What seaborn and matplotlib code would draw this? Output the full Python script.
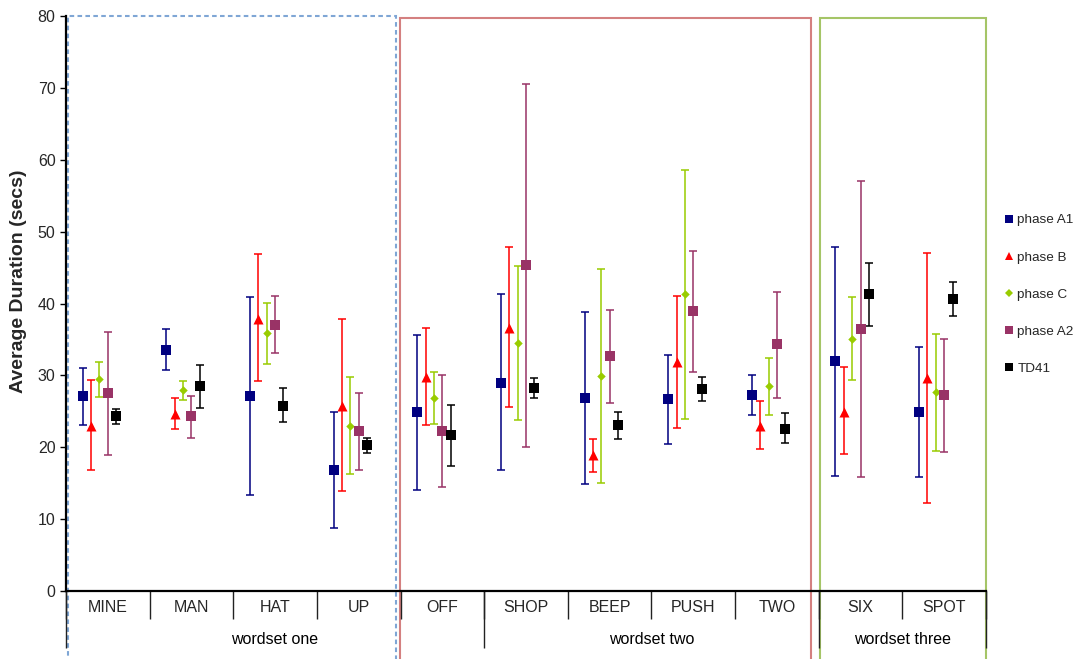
import numpy as np
import pandas as pd
import matplotlib
matplotlib.use("Agg")
import matplotlib.pyplot as plt
from matplotlib.lines import Line2D
from matplotlib.patches import Rectangle
import seaborn as sns

# ---- data -------------------------------------------------------------
categories = ["MINE", "MAN", "HAT", "UP", "OFF", "SHOP", "BEEP", "PUSH", "TWO", "SIX", "SPOT"]
group_labels = ["wordset one", "wordset two", "wordset three"]
group_sizes = [5, 4, 2]
series_names = ["phase A1", "phase B", "phase C", "phase A2", "TD41"]

a1_mean = [27.1, 33.6, 27.1, 16.9, 24.9, 29.0, 26.9, 26.7, 27.3, 32.0, 24.9]
a1_high = [31.0, 36.5, 40.9, 24.9, 35.6, 41.3, 38.8, 32.9, 30.1, 47.8, 33.9]
a1_low = [23.1, 30.8, 13.3, 8.8, 14.1, 16.9, 14.9, 20.5, 24.5, 16.0, 15.9]

b_mean = [23.0, 24.6, 37.9, 25.8, 29.8, 36.6, 18.9, 31.8, 22.9, 24.9, 29.6]
b_high = [29.3, 26.8, 46.9, 37.8, 36.6, 47.8, 21.1, 41.1, 26.5, 31.1, 47.0]
b_low = [16.9, 22.6, 29.2, 13.9, 23.1, 25.6, 16.6, 22.7, 19.7, 19.1, 12.3]

c_mean = [29.5, 27.9, 35.9, 23.0, 26.9, 34.5, 29.9, 41.3, 28.5, 35.1, 27.7]
c_high = [31.9, 29.2, 40.1, 29.8, 30.5, 45.2, 44.8, 58.6, 32.4, 40.9, 35.8]
c_low = [27.0, 26.6, 31.6, 16.3, 23.2, 23.8, 15.0, 23.9, 24.5, 29.3, 19.5]

a2_mean = [27.5, 24.3, 37.0, 22.3, 22.3, 45.3, 32.7, 38.9, 34.3, 36.5, 27.3]
a2_high = [36.0, 27.2, 41.0, 27.6, 30.1, 70.5, 39.1, 47.3, 41.6, 57.0, 35.1]
a2_low = [18.9, 21.3, 33.1, 16.9, 14.5, 20.0, 26.2, 30.5, 26.9, 15.9, 19.4]

td_mean = [24.3, 28.5, 25.8, 20.3, 21.7, 28.3, 23.1, 28.1, 22.6, 41.3, 40.6]
td_high = [25.3, 31.5, 28.2, 21.3, 25.9, 29.7, 24.9, 29.8, 24.7, 45.6, 43.0]
td_low = [23.2, 25.4, 23.5, 19.2, 17.4, 26.8, 21.2, 26.4, 20.6, 36.9, 38.3]

values = {
    "phase A1": (a1_mean, a1_low, a1_high),
    "phase B": (b_mean, b_low, b_high),
    "phase C": (c_mean, c_low, c_high),
    "phase A2": (a2_mean, a2_low, a2_high),
    "TD41": (td_mean, td_low, td_high),
}

# ---- styling ----------------------------------------------------------
colors = {"phase A1": "#000080", "phase B": "#FF0000", "phase C": "#99CC00",
          "phase A2": "#993366", "TD41": "#000000"}
markers = {"phase A1": "s", "phase B": "^", "phase C": "D", "phase A2": "s", "TD41": "s"}
marker_pts = {"phase A1": 6.5, "phase B": 7.2, "phase C": 4.3, "phase A2": 6.5, "TD41": 6.5}
legend_pts = {"phase A1": 5.4, "phase B": 6.0, "phase C": 3.9, "phase A2": 5.4, "TD41": 5.4}
dodge = {"phase A1": -0.3, "phase B": -0.2, "phase C": -0.1, "phase A2": 0.0, "TD41": 0.1}

rows = []
for name in series_names:
    m, lo, hi = values[name]
    for i, cat in enumerate(categories):
        rows.append({"series": name, "category": cat, "pos": i + dodge[name],
                     "mean": m[i], "low": lo[i], "high": hi[i]})
df = pd.DataFrame(rows)

sns.set_theme(style="white")
plt.rcParams["font.family"] = ["Liberation Sans", "DejaVu Sans"]

W, H = 1077, 659
fig = plt.figure(figsize=(W / 100, H / 100), dpi=100)
ax = fig.add_axes([66 / W, 1 - 591 / H, 920 / W, 575 / H])

for name in series_names:
    d = df[df["series"] == name]
    ax.errorbar(d["pos"], d["mean"],
                yerr=[d["mean"] - d["low"], d["high"] - d["mean"]],
                fmt="none", ecolor=colors[name], elinewidth=1.1,
                capsize=3.2, capthick=1.1, zorder=2)
    sns.scatterplot(data=d, x="pos", y="mean", marker=markers[name],
                    s=marker_pts[name] ** 2, color=colors[name], linewidth=0,
                    ax=ax, zorder=3, legend=False)

ax.set_xlim(-0.5, len(categories) - 0.5)
ax.set_ylim(0, 80)
ax.set_xlabel("")
ax.set_ylabel("Average Duration (secs)", fontsize=14, fontweight="bold")
ax.yaxis.set_label_coords(-0.0424, 0.539)

for side in ("top", "right"):
    ax.spines[side].set_visible(False)
for side in ("left", "bottom"):
    ax.spines[side].set_color("black")
    ax.spines[side].set_linewidth(1.6)

ax.set_yticks(np.arange(0, 81, 10))
ax.tick_params(axis="y", direction="out", length=4.5, width=1, color="black",
               labelsize=11.5, pad=3, left=True)

# category labels in the first row under the axis
ax.set_xticks(np.arange(len(categories)))
ax.set_xticklabels(categories)
ax.tick_params(axis="x", which="major", length=0, labelsize=11.5, pad=6.5)
# short dividers between categories
ax.set_xticks(np.arange(-0.5, len(categories), 1.0), minor=True)
ax.tick_params(axis="x", which="minor", direction="out", length=20, width=1,
               color="#222222", bottom=True)

# group row: long dividers and group names
xtrans = ax.get_xaxis_transform()
edges = np.concatenate([[0], np.cumsum(group_sizes)]) - 0.5
ax.vlines(edges, -57 / 575, 0, transform=xtrans, colors="#222222",
          linewidth=1, clip_on=False, zorder=1)
for k, label in enumerate(group_labels):
    ax.text((edges[k] + edges[k + 1]) / 2, -0.0852, label, transform=xtrans,
            ha="center", va="center", fontsize=11.5, color="black")

# frames enclosing each wordset
frames = [(-0.476, 3.440, 1.0, "#7FA6D5", (0, (2.2, 1.6))),
          (3.494, 8.408, 0.997, "#D48080", "-"),
          (8.515, 10.5, 0.996, "#A5C567", "-")]
for x0, x1, top, col, ls in frames:
    ax.add_patch(Rectangle((x0, -0.3), x1 - x0, top + 0.3, transform=xtrans,
                           fill=False, edgecolor=col, linewidth=1.5,
                           linestyle=ls, clip_on=False, zorder=0))

ax.grid(False)

handles = [Line2D([], [], linestyle="none", marker=markers[n], color=colors[n],
                  markersize=legend_pts[n], markeredgewidth=0) for n in series_names]
fig.legend(handles, series_names, loc="upper left",
           bbox_to_anchor=(1004 / W, 1 - 214 / H), frameon=False, fontsize=9.7,
           handlelength=0.75, handletextpad=0.25, labelspacing=1.83,
           borderpad=0, borderaxespad=0)

fig.savefig("out.png", dpi=100)
